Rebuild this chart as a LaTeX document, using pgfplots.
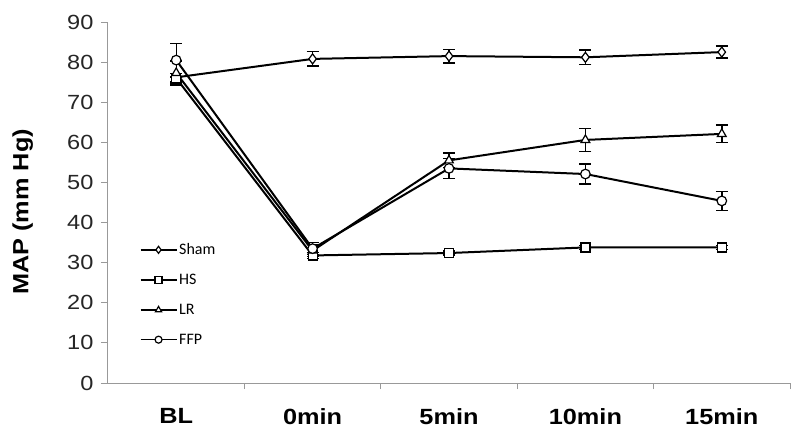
\documentclass[border=0pt]{standalone}
\usepackage{pgfplots}
\pgfplotsset{compat=1.18}
\usepackage{fontspec}
\setmainfont{Liberation Sans}[FakeStretch=1.15]
\newfontfamily\legfont{Carlito}
\begin{document}
\begin{tikzpicture}[x=1pt,y=1pt]
\useasboundingbox (0,0) rectangle (800,437);
\begin{axis}[
  at={(108pt,54pt)}, anchor=south west,
  scale only axis, width=682pt, height=361pt,
  xmin=-0.5, xmax=4.5, ymin=0, ymax=90,
  axis x line*=bottom, axis y line*=left,
  axis line style={draw=gray!80, line width=1pt},
  xtick={0,1,2,3,4},
  xticklabels={BL,0min,5min,10min,15min},
  xticklabel style={font=\fontsize{22}{26}\selectfont\bfseries, yshift=-15pt},
  x tick style={draw=none},
  minor xtick={0.5,1.5,2.5,3.5,4.5},
  minor x tick style={draw=gray!80, line width=1pt},
  minor tick length=6pt,
  ytick={0,10,...,90},
  y tick style={draw=gray!80, line width=1pt},
  major tick length=7pt,
  tick align=outside,
  yticklabel style={font=\fontsize{20.5}{24}\selectfont, text=black!85, xshift=-4pt},
  /pgf/number format/assume math mode=true,
  ylabel={MAP (mm Hg)},
  ylabel style={font=\fontsize{22}{26}\selectfont\bfseries, at={(axis description cs:-0.125,0.474)}, anchor=center},
  legend style={at={(axis description cs:0.042,0.398)}, anchor=north west, draw=none, fill=none,
    font=\legfont\fontsize{16}{18}\selectfont, row sep=14pt, legend cell align=left,
    /tikz/every even column/.append style={column sep=1pt}},
  legend image code/.code={%
    \draw[#1, line width=1.4pt] (0pt,0pt) -- (36pt,0pt);
    \draw[#1, mark size=3.5pt, line width=0.9pt] plot coordinates {(18pt,0pt)};},
  every axis plot/.append style={black, line width=2pt,
    mark options={solid, fill=white, line width=1.2pt},
    error bars/y dir=both, error bars/y explicit,
    error bars/error bar style={line width=1.4pt},
    error bars/error mark options={rotate=90, mark size=6pt, line width=1.4pt}},
  clip=false,
]
\addplot[mark=diamond*, mark size=5pt] coordinates {
 (0,76.2) +- (0,1.0)
 (1,80.8) +- (0,1.8)
 (2,81.5) +- (0,1.7)
 (3,81.2) +- (0,1.8)
 (4,82.5) +- (0,1.5)};
\addlegendentry{Sham}
\addplot[mark=square*, mark size=4.5pt] coordinates {
 (0,76.0) +- (0,1.2)
 (1,31.8) +- (0,0.8)
 (2,32.4) +- (0,0.5)
 (3,33.8) +- (0,0.5)
 (4,33.8) +- (0,0.5)};
\addlegendentry{HS}
\addplot[mark=triangle*, mark size=5pt] coordinates {
 (0,77.3) +- (0,3.0)
 (1,33.0) +- (0,1.5)
 (2,55.5) +- (0,1.8)
 (3,60.6) +- (0,2.9)
 (4,62.1) +- (0,2.2)};
\addlegendentry{LR}
\addplot[mark=*, mark size=4.8pt] coordinates {
 (0,80.5) +- (0,4.2)
 (1,33.5) +- (0,1.5)
 (2,53.5) +- (0,2.5)
 (3,52.1) +- (0,2.5)
 (4,45.4) +- (0,2.4)};
\addlegendentry{FFP}
\end{axis}
\end{tikzpicture}
\end{document}
